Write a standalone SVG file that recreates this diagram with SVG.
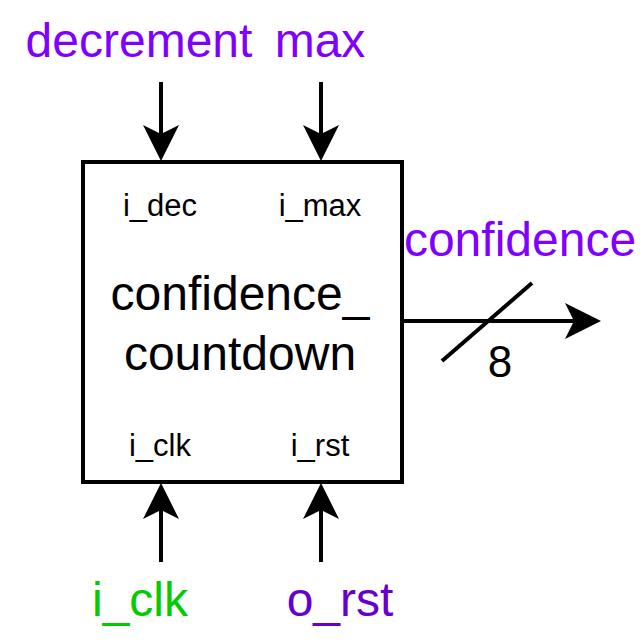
<svg xmlns="http://www.w3.org/2000/svg" width="644" height="644" viewBox="0 0 644 644">
<defs>
<style>
text{font-family:"Liberation Sans",Arial,sans-serif;text-anchor:middle}
.wire{stroke:#000;stroke-width:4;fill:none}
.port{font-size:31px;fill:#000}
.title{font-size:48px;fill:#000}
.sig{font-size:48px;fill:#7F00FF}
</style>
<marker id="ah" markerUnits="userSpaceOnUse" markerWidth="40" markerHeight="40" viewBox="0 0 40 40" refX="32" refY="20" orient="auto">
<path d="M2,2 L38,20 L2,38 L11,20 Z" fill="#000"/>
</marker>
</defs>
<g id="connectors">
<path class="wire" d="M161,82 L161,155" marker-end="url(#ah)"/>
<path class="wire" d="M321,82 L321,155" marker-end="url(#ah)"/>
<path class="wire" d="M161,562 L161,489" marker-end="url(#ah)"/>
<path class="wire" d="M321,562 L321,489" marker-end="url(#ah)"/>
<path class="wire" d="M402,321 L595,321" marker-end="url(#ah)"/>
<path class="wire" d="M442,361 L532,283"/>
</g>
<g id="block">
<rect x="83" y="162" width="319" height="320" fill="#fff" stroke="#000" stroke-width="4"/>
<text class="port" x="160" y="216">i_dec</text>
<text class="port" x="320" y="216">i_max</text>
<text class="title" x="240" y="310">confidence_</text>
<text class="title" x="240" y="370">countdown</text>
<text class="port" x="160" y="456">i_clk</text>
<text class="port" x="320" y="456">i_rst</text>
</g>
<g id="in_decrement"><text class="sig" x="139" y="57">decrement</text></g>
<g id="in_max"><text class="sig" x="320" y="57">max</text></g>
<g id="in_clk"><text class="sig" x="140" y="616" style="fill:#00CC00">i_clk</text></g>
<g id="in_rst"><text class="sig" x="340" y="616" style="fill:#6600CC">o_rst</text></g>
<g id="out_confidence"><text class="sig" x="520" y="256">confidence</text></g>
<g id="width"><text class="title" x="500" y="377" style="font-size:44px">8</text></g>
</svg>
